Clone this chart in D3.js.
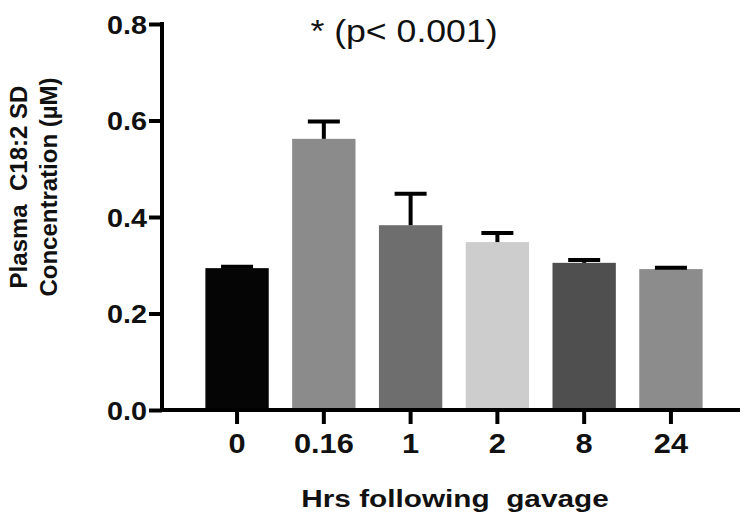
<!DOCTYPE html>
<html>
<head>
<meta charset="utf-8">
<script src="https://cdn.jsdelivr.net/npm/d3@7"></script>
<style>
  body { margin: 0; background: #fff; }
  text { font-family: Arial, "Liberation Sans", Helvetica, sans-serif; fill: #111; white-space: pre; }
</style>
</head>
<body>
<svg id="svg" width="750" height="518"></svg>
<script>
// hours after gavage and plasma C18:2 means (uM) with upper SD
const hours = ["0", "0.16", "1", "2", "8", "24"];
const means = [0.294, 0.562, 0.383, 0.348, 0.305, 0.292];
const sds = [0.003, 0.036, 0.065, 0.019, 0.006, 0.003];
const barColors = ["#050505", "#8b8b8b", "#6e6e6e", "#cdcdcd", "#4f4f4f", "#8c8c8c"];
const yTicks = [0, 0.2, 0.4, 0.6, 0.8];

const svg = d3.select("#svg");
const axisX = 162, x0 = 162, x1 = 746;

const x = d3.scaleBand()
    .domain(hours)
    .range([x0, x1])
    .paddingInner(0.27)
    .paddingOuter(0.5);

const y = d3.scaleLinear()
    .domain([0, 0.8])
    .range([410, 24]);

const data = hours.map((h, i) => ({h, mean: means[i], sd: sds[i], color: barColors[i]}));

// bars
svg.append("g")
  .selectAll("rect")
  .data(data)
  .join("rect")
    .attr("x", d => x(d.h))
    .attr("y", d => y(d.mean))
    .attr("width", x.bandwidth())
    .attr("height", d => y(0) - y(d.mean))
    .attr("fill", d => d.color);

// error bars (upper only)
const err = svg.append("g")
    .attr("stroke", "#000")
    .attr("stroke-width", 4)
  .selectAll("g")
  .data(data)
  .join("g");

err.append("line")
    .attr("x1", d => x(d.h) + x.bandwidth() / 2)
    .attr("x2", d => x(d.h) + x.bandwidth() / 2)
    .attr("y1", d => y(d.mean))
    .attr("y2", d => y(d.mean + d.sd));

err.append("line")
    .attr("x1", d => x(d.h) + x.bandwidth() / 2 - 16)
    .attr("x2", d => x(d.h) + x.bandwidth() / 2 + 16)
    .attr("y1", d => y(d.mean + d.sd))
    .attr("y2", d => y(d.mean + d.sd));

// y axis
const yAxis = svg.append("g")
    .attr("transform", `translate(${axisX},0)`)
    .call(d3.axisLeft(y).tickValues(yTicks).tickFormat(d3.format(".1f")).tickSize(13).tickSizeOuter(0));
yAxis.select(".domain").attr("stroke", "#000").attr("stroke-width", 4).attr("d", `M0,${y(0.8) - 2}V${y(0) + 2}`);
yAxis.selectAll(".tick line").attr("stroke", "#000").attr("stroke-width", 4);
yAxis.selectAll(".tick text")
    .attr("x", null).attr("dy", null)
    .attr("text-anchor", "end")
    .attr("font-size", 25)
    .attr("font-weight", "bold")
    .attr("fill", "#111")
    .attr("transform", "translate(-15,9) scale(1.15,1)");

// x axis
const xAxis = svg.append("g")
    .attr("transform", `translate(0,${y(0)})`)
    .call(d3.axisBottom(x).tickSize(14).tickSizeOuter(0));
xAxis.select(".domain").attr("stroke", "#000").attr("stroke-width", 4).attr("d", `M${axisX - 2},0H740`);
xAxis.selectAll(".tick line").attr("stroke", "#000").attr("stroke-width", 4);
xAxis.selectAll(".tick text")
    .attr("y", null).attr("dy", null)
    .attr("font-size", 27)
    .attr("font-weight", "bold")
    .attr("fill", "#111")
    .attr("transform", "translate(0,43) scale(1.14,1)");

// axis titles
svg.append("text")
    .attr("transform", "translate(455,507) scale(1.24,1)")
    .attr("text-anchor", "middle")
    .attr("font-size", 24)
    .attr("font-weight", "bold")
    .text("Hrs following  gavage");

const yLabel = svg.append("text")
    .attr("transform", "translate(0,187) rotate(-90)")
    .attr("text-anchor", "middle")
    .attr("font-size", 24)
    .attr("font-weight", "bold");
yLabel.append("tspan").attr("x", 0).attr("y", 27).text("Plasma  C18:2 SD");
yLabel.append("tspan").attr("x", 0).attr("y", 57).text("Concentration (\u00b5M)");

// significance note
svg.append("text")
    .attr("transform", "translate(404,42) scale(1.15,1)")
    .attr("text-anchor", "middle")
    .attr("font-size", 31)
    .text("* (p< 0.001)");
</script>
</body>
</html>
